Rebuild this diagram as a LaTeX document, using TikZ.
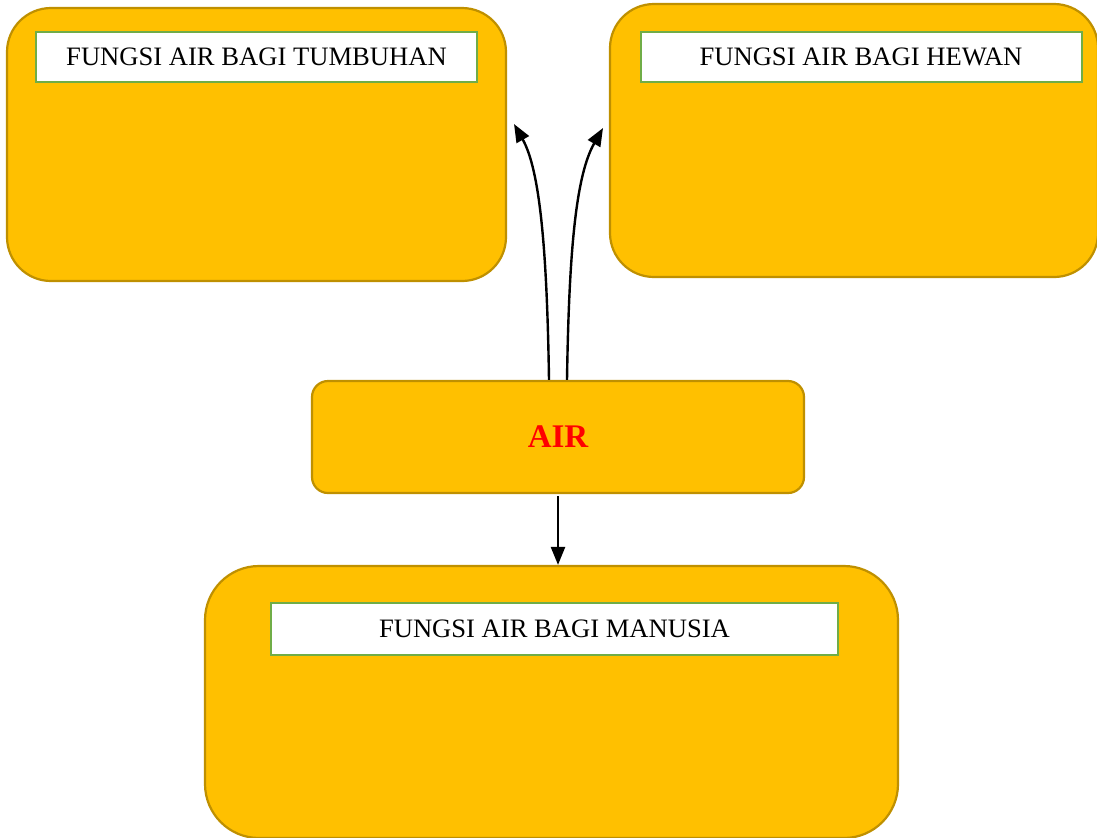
\documentclass[tikz,border=0pt]{standalone}
\usepackage{fontspec}
\setmainfont{Liberation Serif}
\usetikzlibrary{arrows.meta}

\definecolor{gold}{HTML}{FFC000}
\definecolor{golddark}{HTML}{BF9000}
\definecolor{leafgreen}{HTML}{70AD47}

\begin{document}
\begin{tikzpicture}[x=0.5pt,y=-0.5pt,
    bigbox/.style={draw=golddark,fill=gold,line width=1.1pt,rounded corners=22pt,inner sep=0pt},
    titlebox/.style={draw=leafgreen,fill=white,line width=1pt,inner sep=0pt,
      minimum width=220.5pt,minimum height=25pt,font=\fontsize{13.3}{16}\selectfont},
    link/.style={line width=1.2pt,-{Triangle[length=9pt,width=7pt]}}]

       \useasboundingbox (0,0) rectangle (1097,837);

       \node[bigbox,minimum width=249.5pt,minimum height=136.5pt] (tumbuhan) at (256.5,144.5) {};
       \node[bigbox,minimum width=244pt,minimum height=136.5pt] (hewan) at (854,140.5) {};
       \node[bigbox,rounded corners=8pt,minimum width=246pt,minimum height=56pt,
             font=\fontsize{16.5}{20}\selectfont\bfseries,text=red] (air) at (558,437) {\raisebox{-1.5pt}{AIR}};
       \node[bigbox,rounded corners=27pt,minimum width=346.5pt,minimum height=136pt] (manusia) at (551.5,702) {};

       \node[titlebox] (t1) at (256.5,57) {\raisebox{-1pt}{FUNGSI AIR BAGI TUMBUHAN}};
       \node[titlebox] (t2) at (861,57) {\raisebox{-1pt}{FUNGSI AIR BAGI HEWAN}};
       \node[titlebox,minimum width=283.5pt,minimum height=26pt] (t3) at (554.5,629) {\raisebox{-1pt}{FUNGSI AIR BAGI MANUSIA}};

       \coordinate (tipL) at (514,124);
       \coordinate (tipR) at (603,128);

       \draw[link] ([xshift=-4.5pt]air.north) .. controls (547,250) and (540,170) .. (tipL);
       \draw[link] ([xshift=4.5pt]air.north) .. controls (569,250) and (576,175) .. (tipR);
       \draw[link] ([yshift=-1pt]air.south) -- (air.south |- manusia.north);
     \end{tikzpicture}
\end{document}
